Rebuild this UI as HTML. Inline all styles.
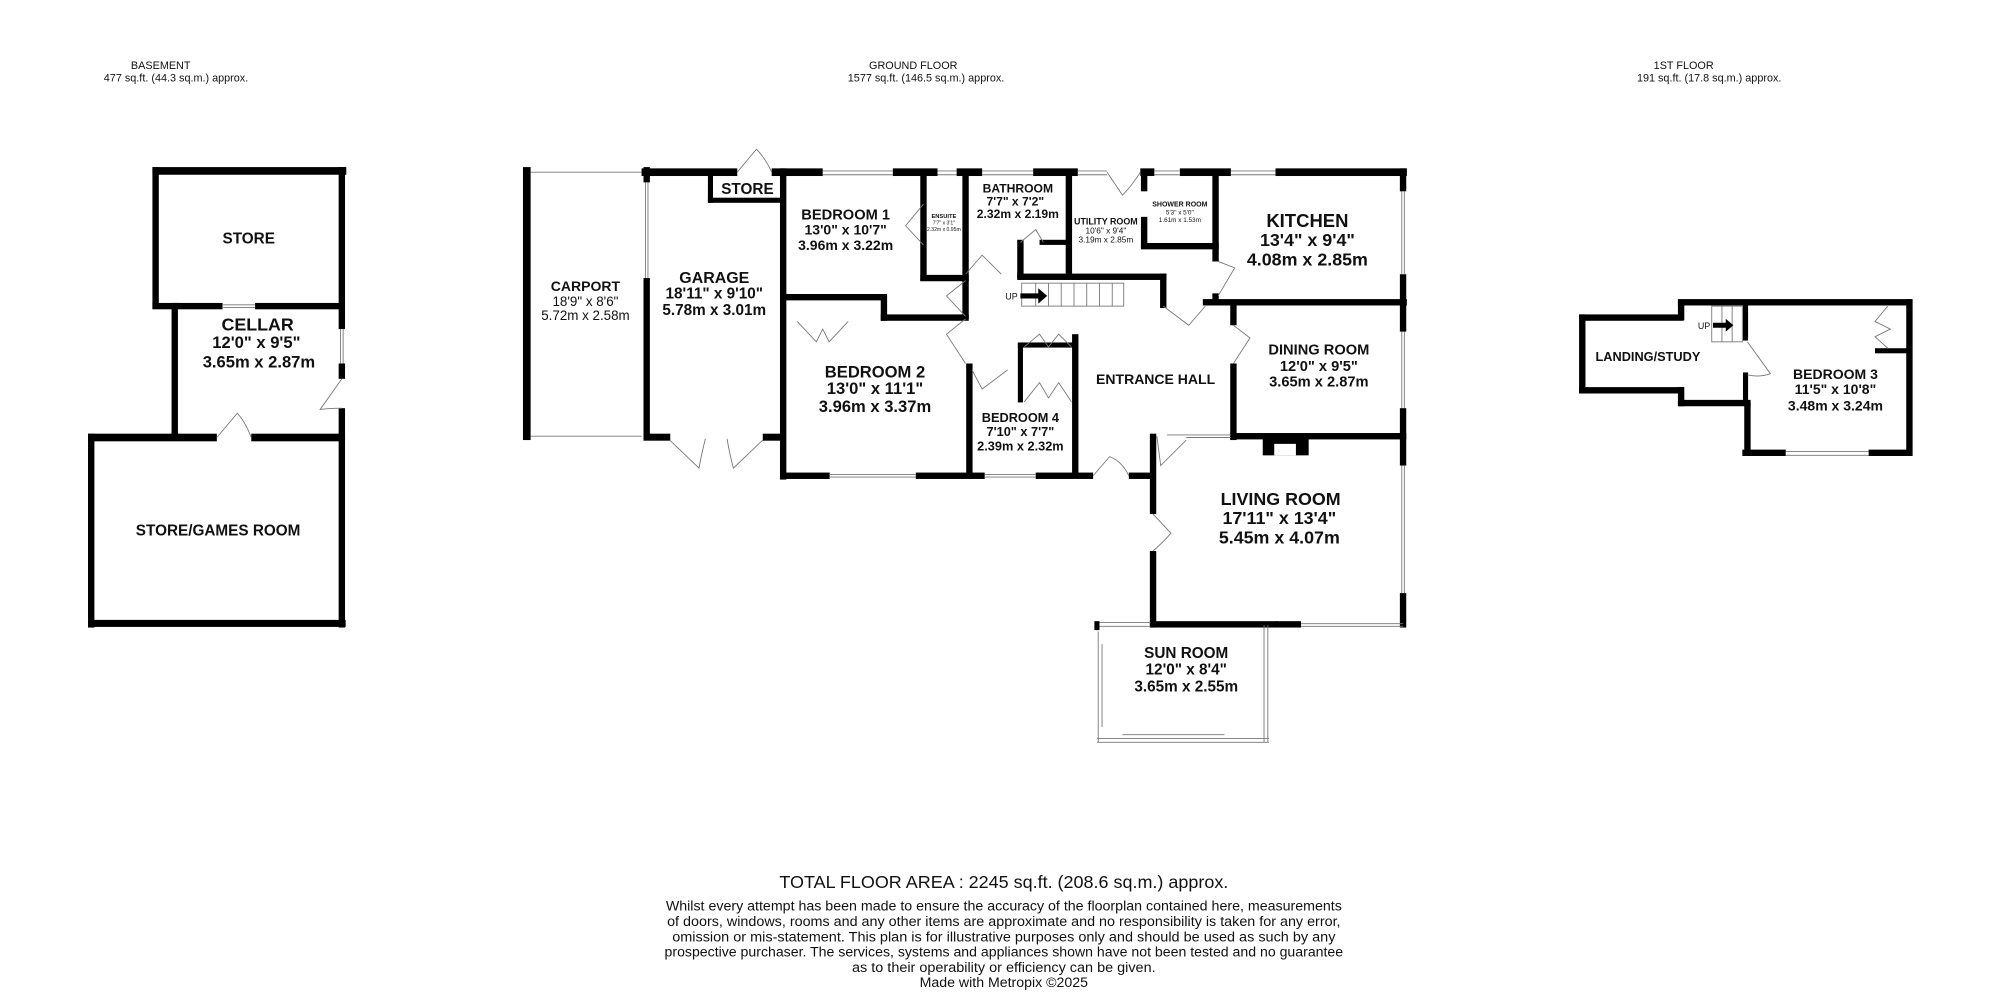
<!DOCTYPE html>
<html><head><meta charset="utf-8"><style>
html,body{margin:0;padding:0;background:#fff;}
svg{display:block}
text{font-family:"Liberation Sans Narrow","Liberation Sans",sans-serif;fill:#111;text-anchor:middle}
.b{font-weight:bold}
</style></head><body>
<svg width="2000" height="994" viewBox="0 0 1568 779.3" xmlns="http://www.w3.org/2000/svg">
<defs><style>.t{stroke:#777;stroke-width:0.7;fill:none}</style></defs>
<!-- headers -->
<text x="126" y="54" font-size="8.5">BASEMENT</text>
<text x="138" y="64" font-size="8.5">477 sq.ft. (44.3 sq.m.) approx.</text>
<text x="716" y="54" font-size="8.5">GROUND FLOOR</text>
<text x="726" y="64" font-size="8.5">1577 sq.ft. (146.5 sq.m.) approx.</text>
<text x="1320" y="54" font-size="8.5">1ST FLOOR</text>
<text x="1340" y="64" font-size="8.5">191 sq.ft. (17.8 sq.m.) approx.</text>

<g fill="#000">
<!-- basement -->
<rect x="119.5" y="131" width="5" height="111"/>
<rect x="119.5" y="131" width="152" height="6"/>
<rect x="265.5" y="131" width="5" height="127"/>
<rect x="265.5" y="285" width="5" height="12"/>
<rect x="265.5" y="320" width="5" height="25"/>
<rect x="119.5" y="237.5" width="55" height="5"/>
<rect x="200" y="237.5" width="70" height="5"/>
<rect x="134.5" y="237.5" width="5" height="108"/>
<rect x="69" y="340" width="101" height="6"/>
<rect x="197" y="340" width="73" height="6"/>
<rect x="69" y="340" width="5" height="152"/>
<rect x="69" y="486" width="202" height="5.5"/>
<rect x="265.5" y="340" width="5" height="152"/>

<!-- ground -->
<rect x="410" y="131" width="6" height="214"/>
<rect x="504.5" y="131" width="5" height="12"/>
<rect x="504.5" y="218" width="5" height="127"/>
<rect x="503" y="132" width="75" height="6"/>
<rect x="605" y="132" width="40" height="6"/>
<rect x="700" y="132" width="35" height="6"/>
<rect x="750" y="132" width="20" height="6"/>
<rect x="810" y="132" width="35" height="6"/>
<rect x="894" y="132" width="11" height="6"/>
<rect x="925" y="132" width="40" height="6"/>
<rect x="1000" y="132" width="103" height="6"/>
<rect x="555" y="137" width="4" height="22"/>
<rect x="555" y="155" width="60" height="4"/>
<rect x="611.5" y="132" width="5" height="244"/>
<rect x="504.5" y="340" width="21" height="5.5"/>
<rect x="598" y="340" width="17" height="5.5"/>
<rect x="721.5" y="135" width="5" height="85"/>
<rect x="721.5" y="215.5" width="38" height="5"/>
<rect x="754.5" y="135" width="5" height="115"/>
<rect x="614" y="230.5" width="81" height="5"/>
<rect x="690.5" y="230.5" width="5" height="21"/>
<rect x="690.5" y="246.5" width="69" height="5"/>
<rect x="835.5" y="135" width="5" height="84"/>
<rect x="797.5" y="214.5" width="117" height="5"/>
<rect x="797.5" y="188" width="5" height="30"/>
<rect x="815" y="188" width="23" height="4"/>
<rect x="909.5" y="214.5" width="5" height="27"/>
<rect x="894.5" y="135" width="5" height="15"/>
<rect x="894.5" y="170" width="5" height="25"/>
<rect x="894.5" y="190.5" width="61" height="5"/>
<rect x="950.5" y="135" width="5" height="70"/>
<rect x="950.5" y="230" width="5" height="9"/>
<rect x="943" y="234.5" width="160" height="5"/>
<rect x="964.5" y="237" width="5" height="18"/>
<rect x="964.5" y="285" width="5" height="60"/>
<rect x="964.5" y="339.5" width="138" height="5"/>
<rect x="1097.5" y="132" width="5" height="18"/>
<rect x="1097.5" y="215" width="5" height="45"/>
<rect x="1097.5" y="320" width="5" height="45"/>
<rect x="1097.5" y="465" width="5" height="27"/>
<rect x="901.5" y="340" width="5" height="63"/>
<rect x="901.5" y="432" width="5" height="60"/>
<rect x="901.5" y="487" width="100" height="5"/>
<rect x="1000" y="487" width="20" height="5"/>
<rect x="990" y="343" width="36" height="14"/>
<rect x="757.5" y="285" width="5" height="90"/>
<rect x="840.5" y="262" width="5" height="113"/>
<rect x="798" y="268.5" width="45" height="4"/>
<rect x="798" y="268.5" width="4" height="47"/>
<rect x="611.5" y="370.5" width="39" height="5"/>
<rect x="718" y="370.5" width="54" height="5"/>
<rect x="812" y="370.5" width="45" height="5"/>
<rect x="885" y="370.5" width="20" height="5"/>
<rect x="858" y="487" width="4" height="7"/>

<!-- 1st floor -->
<rect x="1238" y="246.5" width="82" height="5"/>
<rect x="1315.5" y="235" width="5" height="16"/>
<rect x="1315.5" y="234.5" width="183" height="5"/>
<rect x="1494.5" y="234.5" width="5" height="123"/>
<rect x="1366" y="352.5" width="34" height="5"/>
<rect x="1465" y="352.5" width="34" height="5"/>
<rect x="1367.5" y="316" width="5" height="41"/>
<rect x="1315.5" y="313.5" width="57" height="5"/>
<rect x="1315.5" y="303.5" width="5" height="15"/>
<rect x="1238" y="303.5" width="82" height="5"/>
<rect x="1238" y="246.5" width="5" height="62"/>
<rect x="1366.5" y="237" width="4" height="30"/>
<rect x="1366.5" y="292" width="4" height="26"/>
<rect x="1470" y="273" width="27" height="4"/>
</g>

<g class="t">
<!-- basement thin -->
<line x1="175" y1="239" x2="200" y2="239"/><line x1="175" y1="241" x2="200" y2="241"/>
<line x1="267" y1="258" x2="267" y2="285"/><line x1="269" y1="258" x2="269" y2="285"/>
<path d="M268 297 L251 321 Q258 320 268 320"/>
<path d="M170 343 L186 324 Q192 330 197 343"/>
<!-- ground thin -->
<line x1="416" y1="135" x2="503" y2="135"/><line x1="416" y1="342" x2="503" y2="342"/>
<line x1="506" y1="143" x2="506" y2="218"/><line x1="508" y1="143" x2="508" y2="218"/>
<path d="M578 135 L593 117 Q600 124 605 135"/>
<path d="M525 345 L548 367 Q550 356 553 344 M598 345 L575 367 Q572 356 570 344"/>
<line x1="645" y1="134" x2="700" y2="134"/><line x1="645" y1="137" x2="700" y2="137"/>
<line x1="735" y1="134" x2="750" y2="134"/><line x1="735" y1="137" x2="750" y2="137"/>
<line x1="770" y1="134" x2="810" y2="134"/><line x1="770" y1="137" x2="810" y2="137"/>
<line x1="845" y1="134" x2="868" y2="134"/><line x1="845" y1="137" x2="868" y2="137"/>
<path d="M868 135 L880 153 Q888 145 894 135"/>
<line x1="905" y1="134" x2="925" y2="134"/><line x1="905" y1="137" x2="925" y2="137"/>
<line x1="965" y1="134" x2="1000" y2="134"/><line x1="965" y1="137" x2="1000" y2="137"/>
<line x1="1099" y1="150" x2="1099" y2="215"/><line x1="1101" y1="150" x2="1101" y2="215"/>
<line x1="1099" y1="260" x2="1099" y2="320"/><line x1="1101" y1="260" x2="1101" y2="320"/>
<line x1="1099" y1="365" x2="1099" y2="465"/><line x1="1101" y1="365" x2="1101" y2="465"/>
<line x1="1020" y1="489" x2="1100" y2="489"/><line x1="1020" y1="491" x2="1100" y2="491"/>
<line x1="915" y1="341" x2="965" y2="341"/><line x1="930" y1="343" x2="965" y2="343"/>
<line x1="650" y1="372" x2="718" y2="372"/><line x1="650" y1="374" x2="718" y2="374"/>
<line x1="772" y1="372" x2="812" y2="372"/><line x1="772" y1="374" x2="812" y2="374"/>
<path d="M857 373 L870 358 Q880 362 885 373"/>
<path d="M904 403 L918 418 Q912 425 904 432"/>
<path d="M907 342 L910 365 L930 345"/>
<path d="M724 160 L710 177 L724 192"/>
<path d="M757 215 L770 200 L785 215"/>
<path d="M800 190 L812 180 L818 190"/>
<path d="M955 205 L968 210 L955 232"/>
<path d="M967 255 L980 265 L967 285"/>
<path d="M912 240 L932 255 L945 240"/>
<path d="M757 250 L742 262 L757 285"/>
<path d="M757 220 L742 232 L757 248"/>
<path d="M762 290 L770 305 L790 290"/>
<path d="M625 252 L640 268 L645 258 L650 268 L665 252 M685 252"/>
<path d="M803 272 L815 262 L822 272 L830 262 L840 272"/>
<path d="M803 315 L815 300 L822 312 L830 300 L840 315"/>
<!-- stairs -->
<rect x="801" y="222" width="80" height="18"/>
<path d="M812 222v18M822 222v18M832 222v18M842 222v18M852 222v18M862 222v18M872 222v18"/>
<!-- sun room -->
<line x1="862" y1="488" x2="902" y2="488"/><line x1="862" y1="491" x2="902" y2="491"/>
<line x1="861" y1="495" x2="861" y2="582"/><line x1="864" y1="505" x2="864" y2="570"/>
<line x1="991" y1="490" x2="991" y2="582"/><line x1="994" y1="490" x2="994" y2="582"/>
<line x1="860" y1="579" x2="995" y2="579"/><line x1="860" y1="582" x2="995" y2="582"/>
<line x1="880" y1="576" x2="960" y2="576"/>
<!-- 1st floor -->
<rect x="1342" y="240" width="24" height="28"/>
<path d="M1350 240v28M1358 240v28"/>
<path d="M1370 268 L1388 293 Q1380 296 1370 294"/>
<path d="M1400 354 L1465 354 M1400 357 L1465 357"/>
<path d="M1480 240 L1470 252 L1482 258 L1470 264 L1480 273"/>
</g>
<path d="M800 230 h14 v-4 l7 6 l-7 6 v-4 h-14z" fill="#000"/>
<path d="M1343 253 h10 v-3 l6 5 l-6 5 v-3 h-10z" fill="#000"/>
<rect x="999" y="348" width="17" height="9" fill="#fff"/>

<!-- labels -->
<text class="b" x="195" y="191" font-size="12">STORE</text>
<text class="b" x="202" y="259" font-size="14">CELLAR</text>
<text class="b" x="201" y="273" font-size="13">12'0"  x 9'5"</text>
<text class="b" x="203" y="288" font-size="13">3.65m  x 2.87m</text>
<text class="b" x="171" y="420" font-size="12">STORE/GAMES ROOM</text>
<text class="b" x="586" y="152" font-size="12">STORE</text>
<text class="b" x="459" y="228" font-size="11">CARPORT</text>
<text x="459" y="240" font-size="10.5">18'9"  x 8'6"</text>
<text x="459" y="251" font-size="10.5">5.72m  x 2.58m</text>
<text class="b" x="560" y="222" font-size="12.5">GARAGE</text>
<text class="b" x="560" y="234" font-size="12">18'11"  x 9'10"</text>
<text class="b" x="560" y="247" font-size="12">5.78m  x 3.01m</text>
<text class="b" x="663" y="172" font-size="11.5">BEDROOM 1</text>
<text class="b" x="663" y="184" font-size="11">13'0"  x 10'7"</text>
<text class="b" x="663" y="196" font-size="11">3.96m  x 3.22m</text>
<text class="b" x="740" y="171" font-size="4.5">ENSUITE</text>
<text x="740" y="176" font-size="4">7'7" x 3'1"</text>
<text x="740" y="181" font-size="4">2.32m x 0.95m</text>
<text class="b" x="798" y="151" font-size="9.5">BATHROOM</text>
<text class="b" x="796" y="161" font-size="9.5">7'7"  x 7'2"</text>
<text class="b" x="798" y="171" font-size="9.5">2.32m  x 2.19m</text>
<text class="b" x="867" y="176" font-size="7">UTILITY ROOM</text>
<text x="867" y="183" font-size="6.5">10'6"  x 9'4"</text>
<text x="867" y="190" font-size="6.5">3.19m  x 2.85m</text>
<text class="b" x="925" y="162" font-size="5.5">SHOWER ROOM</text>
<text x="925" y="168" font-size="5">5'3"  x 5'0"</text>
<text x="925" y="174" font-size="5">1.61m  x 1.53m</text>
<text class="b" x="1025" y="178" font-size="14.5">KITCHEN</text>
<text class="b" x="1025" y="193" font-size="14">13'4"  x 9'4"</text>
<text class="b" x="1025" y="208" font-size="14">4.08m  x 2.85m</text>
<text x="793" y="235" font-size="7">UP</text>
<text class="b" x="686" y="296" font-size="13">BEDROOM 2</text>
<text class="b" x="686" y="309" font-size="13">13'0"  x 11'1"</text>
<text class="b" x="686" y="323" font-size="13">3.96m  x 3.37m</text>
<text class="b" x="906" y="301" font-size="11">ENTRANCE HALL</text>
<text class="b" x="1034" y="278" font-size="11.5">DINING ROOM</text>
<text class="b" x="1034" y="291" font-size="11.5">12'0"  x 9'5"</text>
<text class="b" x="1034" y="303" font-size="11.5">3.65m  x 2.87m</text>
<text class="b" x="800" y="331" font-size="10">BEDROOM 4</text>
<text class="b" x="800" y="342" font-size="10">7'10"  x 7'7"</text>
<text class="b" x="800" y="353" font-size="10">2.39m  x 2.32m</text>
<text class="b" x="1004" y="396" font-size="14">LIVING ROOM</text>
<text class="b" x="1003" y="411" font-size="14">17'11"  x 13'4"</text>
<text class="b" x="1003" y="426" font-size="14">5.45m  x 4.07m</text>
<text class="b" x="930" y="516" font-size="12">SUN ROOM</text>
<text class="b" x="930" y="529" font-size="12">12'0"  x 8'4"</text>
<text class="b" x="930" y="542" font-size="12">3.65m  x 2.55m</text>
<text class="b" x="1292" y="283" font-size="10">LANDING/STUDY</text>
<text x="1336" y="258" font-size="7">UP</text>
<text class="b" x="1439" y="297" font-size="11">BEDROOM 3</text>
<text class="b" x="1439" y="309" font-size="11">11'5"  x 10'8"</text>
<text class="b" x="1439" y="322" font-size="11">3.48m  x 3.24m</text>

<!-- footer -->
<text x="787" y="696" font-size="13.5" textLength="352" lengthAdjust="spacingAndGlyphs">TOTAL FLOOR AREA : 2245 sq.ft. (208.6 sq.m.) approx.</text>
<text x="787" y="714" font-size="10.5" textLength="530" lengthAdjust="spacingAndGlyphs">Whilst every attempt has been made to ensure the accuracy of the floorplan contained here, measurements</text>
<text x="787" y="726" font-size="10.5" textLength="528" lengthAdjust="spacingAndGlyphs">of doors, windows, rooms and any other items are approximate and no responsibility is taken for any error,</text>
<text x="787" y="738" font-size="10.5" textLength="520" lengthAdjust="spacingAndGlyphs">omission or mis-statement. This plan is for illustrative purposes only and should be used as such by any</text>
<text x="787" y="750" font-size="10.5" textLength="532" lengthAdjust="spacingAndGlyphs">prospective purchaser. The services, systems and appliances shown have not been tested and no guarantee</text>
<text x="787" y="762" font-size="10.5" textLength="238" lengthAdjust="spacingAndGlyphs">as to their operability or efficiency can be given.</text>
<text x="787" y="774" font-size="10.5" textLength="132" lengthAdjust="spacingAndGlyphs">Made with Metropix ©2025</text>
</svg>
</body></html>
